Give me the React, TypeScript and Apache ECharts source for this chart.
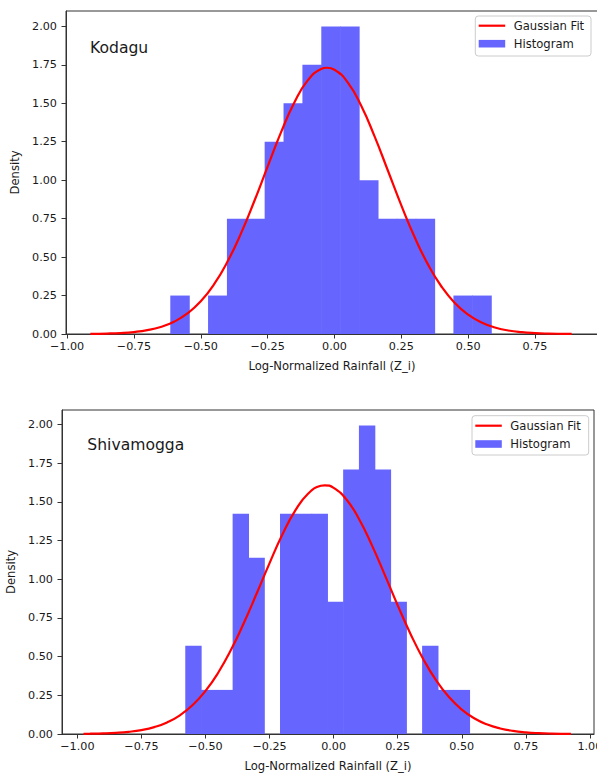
import React, { useEffect, useRef } from "react";
import * as echarts from "echarts";

// ---------- Data ----------
const KODAGU_EDGES = [-0.614, -0.5434, -0.4728, -0.4022, -0.3316, -0.2611, -0.1905, -0.1199, -0.0493, 0.0213, 0.0919, 0.1625, 0.2331, 0.3036, 0.3742, 0.4448, 0.5154, 0.586];
const KODAGU_DENSITY = [0.25, 0, 0.25, 0.75, 0.75, 1.25, 1.5, 1.75, 2.0, 2.0, 1.0, 0.75, 0.75, 0.75, 0, 0.25, 0.25];

const SHIVA_EDGES = [-0.579, -0.5174, -0.4558, -0.3942, -0.3326, -0.2709, -0.2093, -0.1477, -0.0861, -0.0245, 0.0371, 0.0987, 0.1603, 0.2219, 0.2836, 0.3452, 0.4068, 0.4684, 0.53];
const SHIVA_DENSITY = [0.57, 0.285, 0.285, 1.424, 1.139, 0, 1.424, 1.424, 1.424, 0.854, 1.709, 1.994, 1.709, 0.854, 0, 0.57, 0.285, 0.285];

const KODAGU_FIT_X = [-0.913, -0.85, -0.8, -0.75, -0.7, -0.65, -0.6, -0.55, -0.5, -0.45, -0.4, -0.35, -0.3, -0.25, -0.2, -0.15, -0.1, -0.05, -0.028, 0, 0.05, 0.1, 0.15, 0.2, 0.25, 0.3, 0.35, 0.4, 0.45, 0.5, 0.55, 0.6, 0.65, 0.7, 0.75, 0.8, 0.85, 0.887];
const KODAGU_FIT_Y = [0.0011, 0.003, 0.0063, 0.0128, 0.0247, 0.0454, 0.0796, 0.1333, 0.2126, 0.3239, 0.4708, 0.6524, 0.8629, 1.0886, 1.3104, 1.5048, 1.6486, 1.7231, 1.731, 1.7183, 1.6347, 1.4837, 1.2846, 1.0613, 0.8365, 0.6289, 0.4511, 0.3088, 0.2016, 0.1256, 0.0746, 0.0423, 0.0229, 0.0118, 0.0058, 0.0027, 0.0012, 0.0007];

const SHIVA_FIT_X = [-0.976, -0.95, -0.9, -0.85, -0.8, -0.75, -0.7, -0.65, -0.6, -0.55, -0.5, -0.45, -0.4, -0.35, -0.3, -0.25, -0.2, -0.15, -0.1, -0.05, -0.035, 0, 0.05, 0.1, 0.15, 0.2, 0.25, 0.3, 0.35, 0.4, 0.45, 0.5, 0.55, 0.6, 0.65, 0.7, 0.75, 0.8, 0.85, 0.926];
const SHIVA_FIT_Y = [0.0012, 0.0018, 0.0037, 0.0074, 0.014, 0.0254, 0.0445, 0.0748, 0.1207, 0.187, 0.2784, 0.3976, 0.5454, 0.7186, 0.9093, 1.1047, 1.2887, 1.4436, 1.5529, 1.6041, 1.607, 1.5911, 1.5155, 1.3862, 1.2175, 1.0269, 0.8316, 0.6468, 0.4831, 0.3465, 0.2385, 0.1578, 0.1002, 0.0611, 0.0358, 0.0201, 0.0109, 0.0056, 0.0028, 0.0009];

const X_TICKS_TOP = [-1.0, -0.75, -0.5, -0.25, 0.0, 0.25, 0.5, 0.75];
const X_TICKS_BOTTOM = [-1.0, -0.75, -0.5, -0.25, 0.0, 0.25, 0.5, 0.75, 1.0];
const Y_TICKS = [0, 0.25, 0.5, 0.75, 1.0, 1.25, 1.5, 1.75, 2.0];

const TITLES = ["Kodagu", "Shivamogga"];
const X_NAME = "Log-Normalized Rainfall (Z_i)";
const Y_NAME = "Density";
const FIT_NAME = "Gaussian Fit";
const HIST_NAME = "Histogram";

// ---------- Styles ----------
const FONT = "DejaVu Sans";
const TEXT = "#1a1a1a";
const AXIS = "#333333";
const BAR = "#6666ff";
const RED = "#ff0000";

const fmt = (v: number) => {
  const s = Math.abs(v).toFixed(2);
  return v < 0 ? "\u2212" + s : s;
};

function histData(edges: number[], dens: number[]) {
  return dens.map((d, i) => [edges[i], edges[i + 1], d]);
}
function lineData(xs: number[], ys: number[]) {
  return xs.map((x, i) => [x, ys[i]]);
}

function xAxisOpt(gi: number, min: number, max: number, ticks: number[]) {
  return {
    type: "value",
    gridIndex: gi,
    min,
    max,
    name: X_NAME,
    nameLocation: "middle",
    nameGap: 26,
    nameTextStyle: { fontFamily: FONT, fontSize: 11.6, color: TEXT },
    axisLine: { show: true, onZero: false, lineStyle: { color: AXIS, width: 1 } },
    axisTick: { show: true, length: 4.5, lineStyle: { color: AXIS }, customValues: ticks },
    axisLabel: { fontFamily: FONT, fontSize: 11.2, color: TEXT, margin: 7, customValues: ticks, formatter: fmt },
    splitLine: { show: false },
  };
}
function yAxisOpt(gi: number, max: number, gap: number) {
  return {
    type: "value",
    gridIndex: gi,
    min: 0,
    max,
    name: Y_NAME,
    nameLocation: "middle",
    nameGap: gap,
    nameTextStyle: { fontFamily: FONT, fontSize: 11.6, color: TEXT },
    axisLine: { show: true, onZero: false, lineStyle: { color: AXIS, width: 1 } },
    axisTick: { show: true, length: 4.5, lineStyle: { color: AXIS }, customValues: Y_TICKS },
    axisLabel: { fontFamily: FONT, fontSize: 11.2, color: TEXT, margin: 9, customValues: Y_TICKS, formatter: (v: number) => v.toFixed(2) },
    splitLine: { show: false },
  };
}

function histSeries(idx: number, data: number[][]) {
  return {
    type: "custom",
    name: HIST_NAME,
    xAxisIndex: idx,
    yAxisIndex: idx,
    data,
    encode: { x: [0, 1], y: 2 },
    z: 2,
    renderItem: (params: any, api: any) => {
      const x0 = api.value(0);
      const x1 = api.value(1);
      const h = api.value(2);
      if (!(h > 0)) return null;
      const p0 = api.coord([x0, h]);
      const p1 = api.coord([x1, 0]);
      return {
        type: "rect",
        shape: { x: p0[0], y: p0[1], width: p1[0] - p0[0] + 0.6, height: p1[1] - p0[1] },
        style: { fill: BAR, stroke: null },
      };
    },
  };
}
function fitSeries(idx: number, data: number[][]) {
  return {
    type: "line",
    name: FIT_NAME,
    xAxisIndex: idx,
    yAxisIndex: idx,
    data,
    smooth: true,
    showSymbol: false,
    symbol: "none",
    z: 3,
    lineStyle: { color: RED, width: 2.2 },
    itemStyle: { color: RED },
  };
}

function legendGraphic(bx: number, by: number, bw: number, bh: number, lx: number, tx: number, y1: number, y2: number) {
  return [
    {
      type: "rect",
      shape: { x: bx, y: by, width: bw, height: bh, r: 3 },
      style: { fill: "rgba(255,255,255,0.8)", stroke: "#cccccc", lineWidth: 1 },
      z: 10,
    },
    {
      type: "line",
      shape: { x1: lx, y1, x2: lx + 26.5, y2: y1 },
      style: { stroke: RED, lineWidth: 2.2 },
      z: 11,
    },
    {
      type: "rect",
      shape: { x: lx, y: y2 - 3.8, width: 26.5, height: 7.6 },
      style: { fill: BAR },
      z: 11,
    },
    {
      type: "text",
      x: tx,
      y: y1,
      style: { text: FIT_NAME, fontFamily: FONT, fontSize: 11.6, fill: TEXT, align: "left", verticalAlign: "middle" },
      z: 11,
    },
    {
      type: "text",
      x: tx,
      y: y2,
      style: { text: HIST_NAME, fontFamily: FONT, fontSize: 11.6, fill: TEXT, align: "left", verticalAlign: "middle" },
      z: 11,
    },
  ];
}

export default function App() {
  const ref = useRef<HTMLDivElement>(null);
  useEffect(() => {
    if (!ref.current) return;
    const chart = echarts.init(ref.current, undefined, { renderer: "svg" });
    const option: any = {
      animation: false,
      backgroundColor: "#ffffff",
      textStyle: { fontFamily: FONT },
      grid: [
        { left: 66, top: 11, width: 532, height: 323, show: true, borderColor: AXIS, borderWidth: 1, backgroundColor: "transparent", containLabel: false, outerBoundsMode: "none" },
        { left: 62, top: 410, width: 532, height: 324, show: true, borderColor: AXIS, borderWidth: 1, backgroundColor: "transparent", containLabel: false, outerBoundsMode: "none" },
      ],
      xAxis: [xAxisOpt(0, -1.004, 0.9855, X_TICKS_TOP), xAxisOpt(1, -1.06, 1.016, X_TICKS_BOTTOM)],
      yAxis: [yAxisOpt(0, 2.1, 39), yAxisOpt(1, 2.094, 38)],
      series: [
        histSeries(0, histData(KODAGU_EDGES, KODAGU_DENSITY)),
        fitSeries(0, lineData(KODAGU_FIT_X, KODAGU_FIT_Y)),
        histSeries(1, histData(SHIVA_EDGES, SHIVA_DENSITY)),
        fitSeries(1, lineData(SHIVA_FIT_X, SHIVA_FIT_Y)),
      ],
      graphic: [
        {
          type: "text",
          x: 90,
          y: 48,
          style: { text: TITLES[0], fontFamily: FONT, fontSize: 15.6, fill: TEXT, align: "left", verticalAlign: "middle" },
          z: 12,
        },
        {
          type: "text",
          x: 87.3,
          y: 445,
          style: { text: TITLES[1], fontFamily: FONT, fontSize: 15.6, fill: TEXT, align: "left", verticalAlign: "middle" },
          z: 12,
        },
        ...legendGraphic(475.3, 16, 115.7, 40, 478.7, 513.7, 25.7, 43.7),
        ...legendGraphic(472, 415.7, 116.7, 39.3, 475.3, 510.3, 425.7, 444),
      ],
    };
    chart.setOption(option);
    return () => chart.dispose();
  }, []);
  return (
    <div
      ref={ref}
      style={{ position: "absolute", left: 0, top: 0, width: 597, height: 773, background: "#fff" }}
    />
  );
}
